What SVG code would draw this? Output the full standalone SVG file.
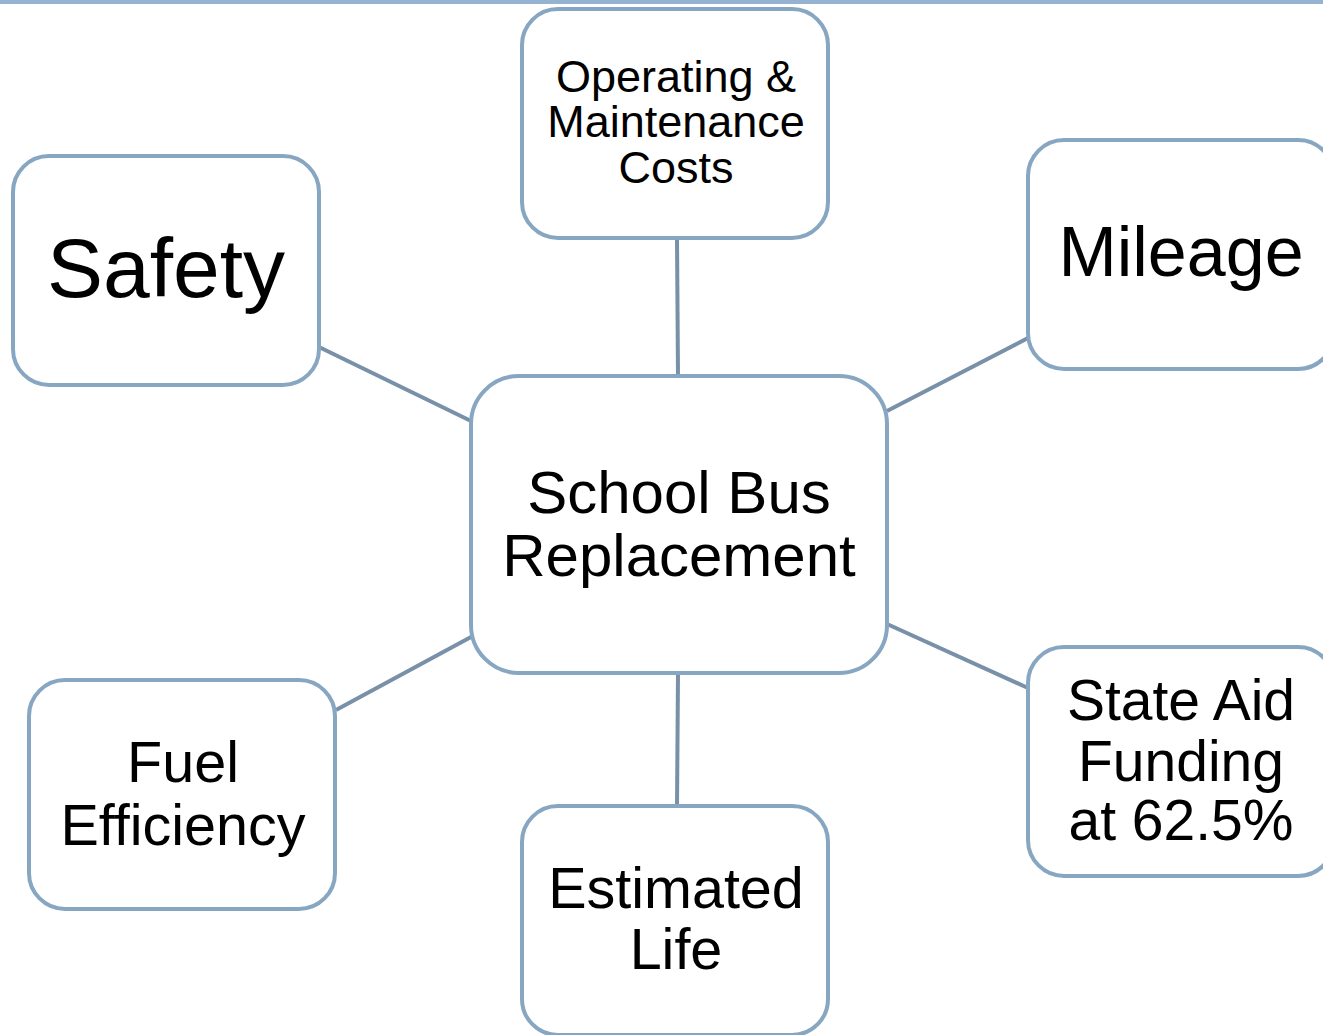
<svg xmlns="http://www.w3.org/2000/svg" width="1323" height="1035" viewBox="0 0 1323 1035">
<style>
.box{fill:#fff;stroke:#87a6c1;stroke-width:4}
.con line{stroke:#7890a8;stroke-width:4}
text{font-family:"Liberation Sans",Arial,sans-serif;fill:#000;text-anchor:middle}
</style>
<rect width="1323" height="1035" fill="#fff"/>
<rect x="0" y="0" width="1323" height="4" fill="#95b3d0"/>
<g class="con">
<line x1="319" y1="347" x2="471" y2="421"/>
<line x1="677" y1="238" x2="678" y2="376"/>
<line x1="1028" y1="338" x2="887" y2="411"/>
<line x1="887" y1="624" x2="1028" y2="688"/>
<line x1="336" y1="710" x2="471" y2="637"/>
<line x1="678" y1="673" x2="677" y2="806"/>
</g>
<g id="center"><rect class="box" x="471" y="376" width="416" height="297" rx="48"/>
<text font-size="60"><tspan x="679" y="513">School Bus</tspan><tspan x="679" y="576">Replacement</tspan></text></g>
<g id="safety"><rect class="box" x="13" y="156" width="306" height="229" rx="36"/>
<text x="166" y="297" font-size="84">Safety</text></g>
<g id="operating"><rect class="box" x="522" y="9" width="306" height="229" rx="36"/>
<text font-size="45"><tspan x="676" y="92">Operating &amp;</tspan><tspan x="676" y="137">Maintenance</tspan><tspan x="676" y="183">Costs</tspan></text></g>
<g id="mileage"><rect class="box" x="1028" y="140" width="306" height="229" rx="36"/>
<text x="1181" y="276" font-size="70">Mileage</text></g>
<g id="stateaid"><rect class="box" x="1028" y="647" width="306" height="229" rx="36"/>
<text font-size="57"><tspan x="1181" y="720">State Aid</tspan><tspan x="1181" y="781">Funding</tspan><tspan x="1181" y="840">at 62.5%</tspan></text></g>
<g id="fuel"><rect class="box" x="29" y="680" width="306" height="229" rx="36"/>
<text font-size="57.5"><tspan x="183" y="782">Fuel</tspan><tspan x="183" y="845">Efficiency</tspan></text></g>
<g id="estimated"><rect class="box" x="522" y="806" width="306" height="229" rx="36"/>
<text font-size="57.5"><tspan x="676" y="908">Estimated</tspan><tspan x="676" y="969">Life</tspan></text></g>
</svg>
